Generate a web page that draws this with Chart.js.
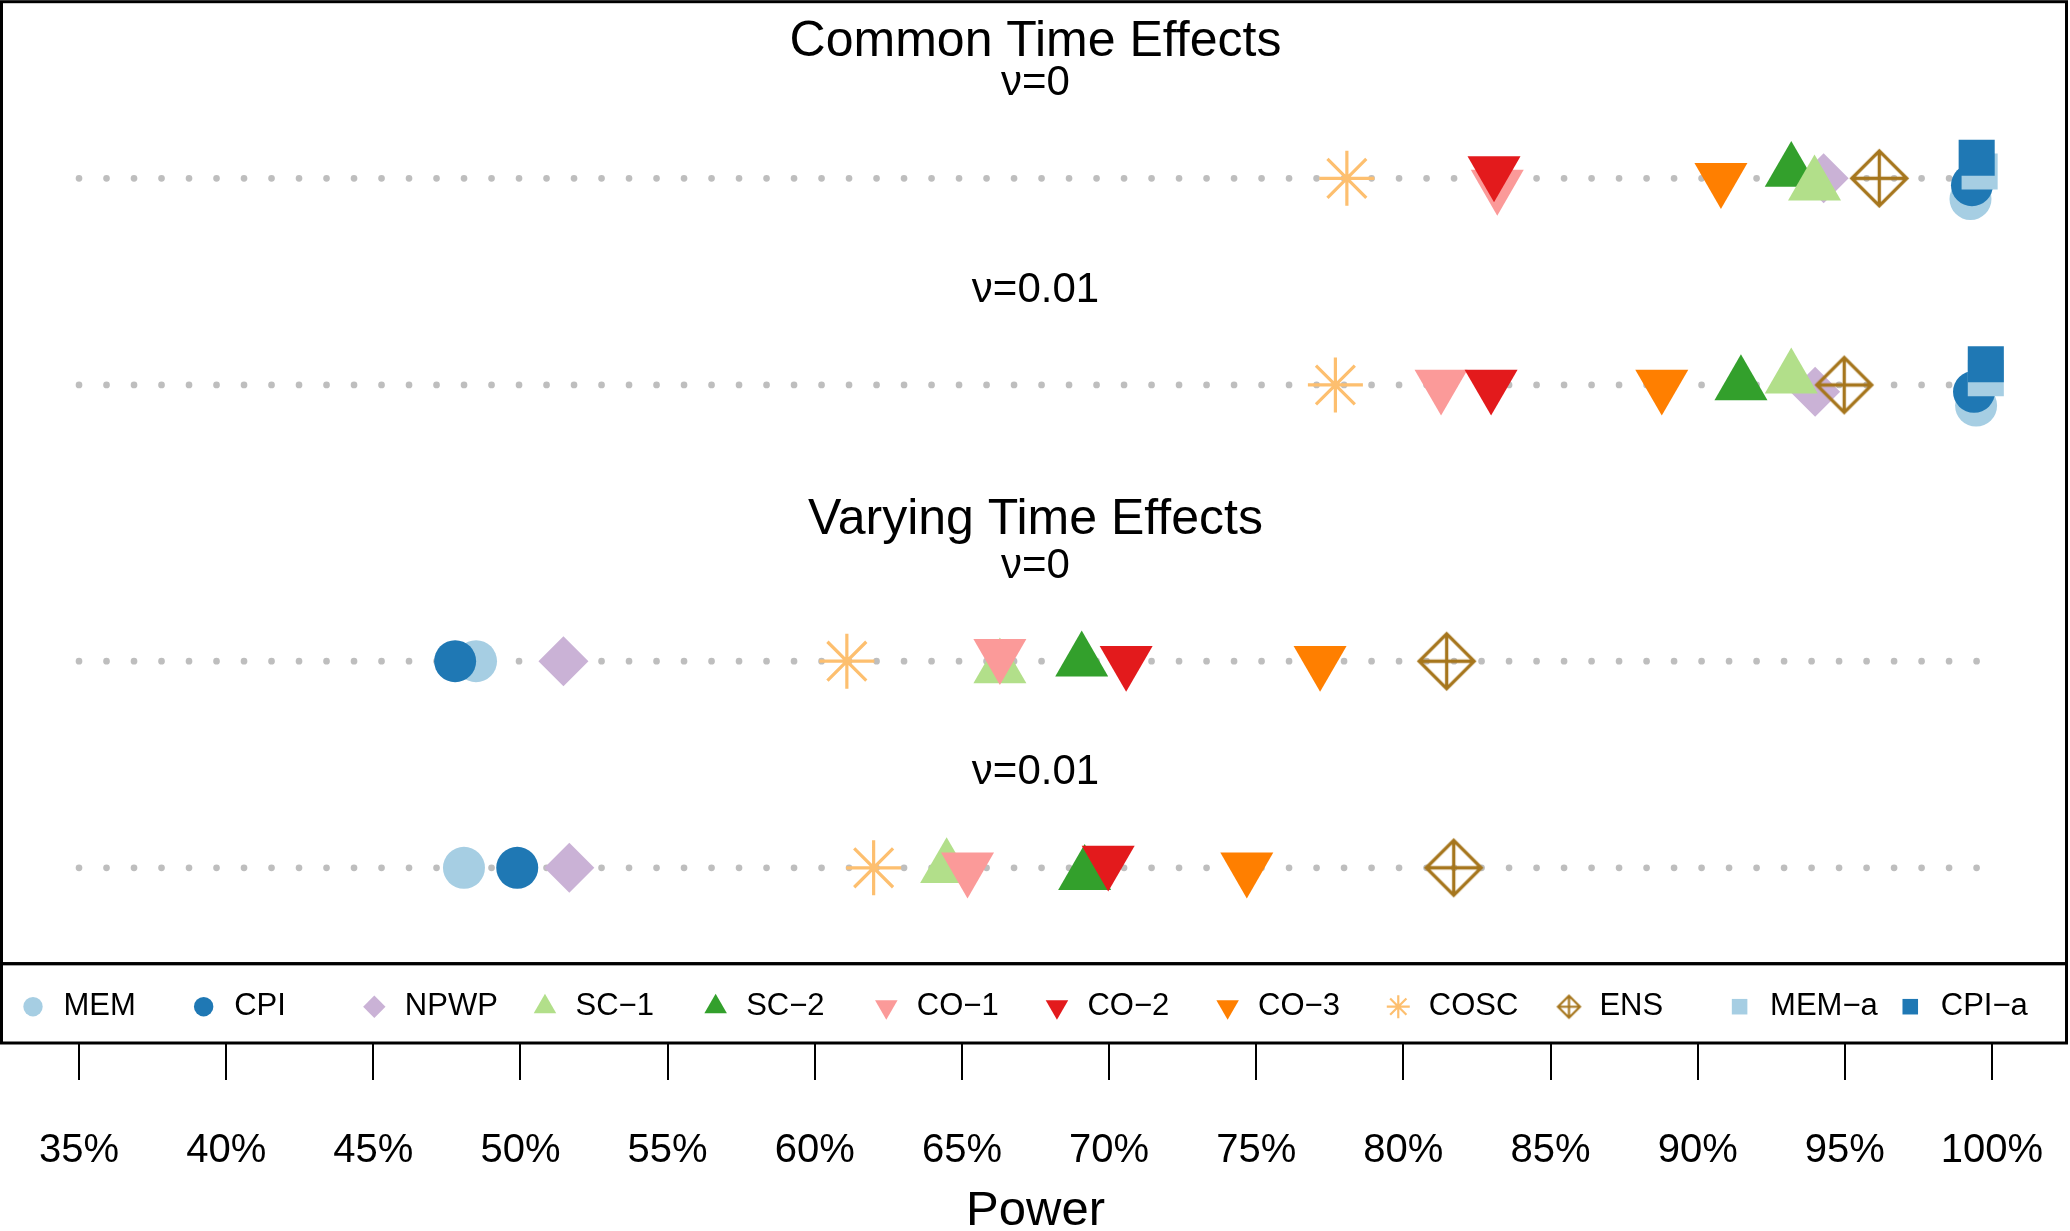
<!DOCTYPE html>
<html>
<head>
<meta charset="utf-8">
<script src="https://cdn.jsdelivr.net/npm/chart.js@4.4.1/dist/chart.umd.min.js"></script>
<style>
  html, body { margin: 0; padding: 0; background: #ffffff; }
  #wrap { width: 2070px; height: 1231px; }
</style>
</head>
<body>
<div id="wrap"><canvas id="chart" width="2070" height="1231"></canvas></div>
<script>
// ---------------- data ----------------
const seriesNames = ['MEM', 'CPI', 'NPWP', 'SC\u22121', 'SC\u22122', 'CO\u22121', 'CO\u22122', 'CO\u22123', 'COSC', 'ENS', 'MEM\u2212a', 'CPI\u2212a'];
const panelTitles = ['Common Time Effects', 'Varying Time Effects'];
const panelFirstRow = [0, 2];
const rowLabels = ['\u03bd=0', '\u03bd=0.01', '\u03bd=0', '\u03bd=0.01'];
// row coordinates (top to bottom): Common ν=0, Common ν=0.01, Varying ν=0, Varying ν=0.01
const rowPos = [0, 1, 2.337, 3.337];
const xTickValues = [35, 40, 45, 50, 55, 60, 65, 70, 75, 80, 85, 90, 95, 100];
const xLimits = [32.4, 102.6];
const guideRange = [35, 99.5];

// power (%) per series, one value per row
const powerMEM  = [99.27, 99.46, 48.49, 48.08];
const powerCPI  = [99.32, 99.39, 47.78, 49.89];
const powerNPWP = [94.28, 93.99, 51.46, 51.66];
const powerSC1  = [93.97, 93.18, 66.29, 64.48];
const powerSC2  = [93.18, 91.47, 69.07, 69.17];
const powerCO1  = [83.19, 81.28, 66.29, 65.19];
const powerCO2  = [83.08, 82.98, 70.58, 69.97];
const powerCO3  = [90.79, 88.78, 77.17, 74.68];
const powerCOSC = [78.08, 77.69, 61.09, 62.00];
const powerENS  = [96.17, 94.98, 81.47, 81.71];
const powerMEMa = [99.58, 99.79, null, null];
const powerCPIa = [99.48, 99.79, null, null];

// vertical separation of overlapping points (row units), one per row
const yOffMEM  = [0.100, 0.100, 0, 0];
const yOffCPI  = [0.033, 0.033, 0, 0];
const yOffNPWP = [0, 0.033, 0, 0];
const yOffSC1  = [0.033, -0.033, 0.033, 0];
const yOffSC2  = [-0.033, 0, 0, 0.033];
const yOffCO1  = [0.033, 0, -0.033, 0];
const yOffCO2  = [-0.033, 0, 0, -0.033];
const yOffCO3  = [0, 0, 0, 0];
const yOffCOSC = [0, 0, 0, 0];
const yOffENS  = [0, 0, 0, 0];
const yOffMEMa = [-0.033, -0.033, 0, 0];
const yOffCPIa = [-0.100, -0.100, 0, 0];

const seriesPower = [powerMEM, powerCPI, powerNPWP, powerSC1, powerSC2, powerCO1, powerCO2, powerCO3, powerCOSC, powerENS, powerMEMa, powerCPIa];
const seriesYOff  = [yOffMEM, yOffCPI, yOffNPWP, yOffSC1, yOffSC2, yOffCO1, yOffCO2, yOffCO3, yOffCOSC, yOffENS, yOffMEMa, yOffCPIa];

// ---------------- styles ----------------
function makeEnsCanvas(half, lw, color) {
  const size = Math.ceil(2 * half + lw + 4);
  const cv = document.createElement('canvas');
  cv.width = size; cv.height = size;
  const c = cv.getContext('2d');
  const m = size / 2;
  c.strokeStyle = color; c.lineWidth = lw; c.lineJoin = 'miter';
  c.beginPath();
  c.moveTo(m - half, m); c.lineTo(m, m - half); c.lineTo(m + half, m); c.lineTo(m, m + half); c.closePath();
  c.moveTo(m - half, m); c.lineTo(m + half, m);
  c.moveTo(m, m - half); c.lineTo(m, m + half);
  c.stroke();
  return cv;
}
const ENS_COLOR = '#A6761D';
const ensPointCanvas = makeEnsCanvas(27.5, 3.3, ENS_COLOR);
const ensLegendCanvas = makeEnsCanvas(11, 2.2, ENS_COLOR);

const markerStyle = [
  { color: '#A6CEE3', shape: 'circle',   rot: 0,   r: 21,   lr: 9.7 },
  { color: '#1F78B4', shape: 'circle',   rot: 0,   r: 21,   lr: 9.7 },
  { color: '#CAB2D6', shape: 'rectRot',  rot: 0,   r: 25,   lr: 11.2 },
  { color: '#B2DF8A', shape: 'triangle', rot: 0,   r: 30.6, lr: 13 },
  { color: '#33A02C', shape: 'triangle', rot: 0,   r: 30.6, lr: 13 },
  { color: '#FB9A99', shape: 'triangle', rot: 180, r: 30.6, lr: 13 },
  { color: '#E31A1C', shape: 'triangle', rot: 180, r: 30.6, lr: 13 },
  { color: '#FF7F00', shape: 'triangle', rot: 180, r: 30.6, lr: 13 },
  { color: '#FDBF6F', shape: 'star',     rot: 0,   r: 27.5, lr: 11.5, lw: 3.2, llw: 2.2 },
  { color: ENS_COLOR, shape: 'ens',      rot: 0,   r: 28,   lr: 11 },
  { color: '#A6CEE3', shape: 'rect',     rot: 0,   r: 25.5, lr: 11 },
  { color: '#1F78B4', shape: 'rect',     rot: 0,   r: 25.5, lr: 11 }
];
// drawing sequence (later = on top)
const drawRank = [0, 1, 2, 4, 3, 5, 6, 7, 8, 9, 10, 11];

// ---------------- datasets ----------------
const guideSets = rowPos.map((yv) => ({
  label: '',
  data: [{ x: guideRange[0], y: yv }, { x: guideRange[1], y: yv }],
  showLine: true,
  borderColor: '#BEBEBE',
  borderWidth: 6.7,
  borderDash: [0.001, 27.5],
  borderCapStyle: 'round',
  pointRadius: 0,
  order: 100
}));

const pointSets = seriesNames.map((name, s) => {
  const st = markerStyle[s];
  const pts = [];
  seriesPower[s].forEach((v, i) => {
    if (v !== null) pts.push({ x: v, y: rowPos[i] + seriesYOff[s][i] });
  });
  return {
    label: name,
    data: pts,
    showLine: false,
    pointStyle: st.shape === 'ens' ? ensPointCanvas : st.shape,
    pointRotation: st.rot,
    pointRadius: st.r,
    pointHoverRadius: st.r,
    pointBackgroundColor: st.color,
    pointBorderColor: st.color,
    pointBorderWidth: st.lw || 0,
    order: 50 - drawRank[s]
  };
});

// ---------------- plugins ----------------
const LEGEND_BAND = 79.3;
const LEGEND_STEP = 170.66;
const TITLE_OFFSETS = [136.5, 141];

function drawLegendMarker(ctx, st, x, y) {
  ctx.save();
  ctx.fillStyle = st.color;
  ctx.strokeStyle = st.color;
  if (st.shape === 'ens') {
    ctx.drawImage(ensLegendCanvas, x - ensLegendCanvas.width / 2, y - ensLegendCanvas.height / 2);
  } else {
    const bw = st.llw || 0;
    ctx.lineWidth = bw;
    Chart.helpers.drawPoint(ctx, { pointStyle: st.shape, radius: st.lr, rotation: st.rot, borderWidth: bw }, x, y);
  }
  ctx.restore();
}

const decorPlugin = {
  id: 'decor',
  afterDraw(chart) {
    const { ctx, chartArea: ca, scales } = chart;
    const ys = scales.y;
    const cx = (ca.left + ca.right) / 2;
    const boxL = ca.left - 1, boxR = ca.right - 2, boxT = ca.top + 0.2;
    const legTop = ca.bottom - LEGEND_BAND;
    ctx.save();
    // frames
    ctx.strokeStyle = '#000';
    ctx.lineWidth = 3;
    ctx.strokeRect(boxL, boxT, boxR - boxL, legTop - boxT);
    ctx.strokeRect(boxL, legTop, boxR - boxL, ca.bottom - legTop);

    // panel titles and row labels
    ctx.fillStyle = '#000';
    ctx.textAlign = 'center';
    ctx.textBaseline = 'middle';
    ctx.font = '50px "Liberation Sans", Arial, sans-serif';
    panelTitles.forEach((t, i) => {
      ctx.fillText(t, cx, ys.getPixelForValue(rowPos[panelFirstRow[i]]) - TITLE_OFFSETS[i]);
    });
    ctx.font = '42px "Liberation Sans", Arial, sans-serif';
    rowLabels.forEach((t, i) => {
      ctx.fillText(t, cx, ys.getPixelForValue(rowPos[i]) - 95);
    });

    // legend
    const legY = legTop + 43;
    ctx.font = '31px "Liberation Sans", Arial, sans-serif';
    ctx.textAlign = 'left';
    seriesNames.forEach((name, s) => {
      const mx = ca.left + 30.5 + s * LEGEND_STEP;
      drawLegendMarker(ctx, markerStyle[s], mx, legY);
      ctx.fillStyle = '#000';
      ctx.fillText(name, mx + 30.5, legY);
    });
    ctx.restore();
  }
};

// ---------------- chart ----------------
new Chart(document.getElementById('chart'), {
  type: 'scatter',
  data: { datasets: guideSets.concat(pointSets) },
  options: {
    responsive: false,
    animation: false,
    events: [],
    layout: { autoPadding: false, padding: { left: 2.5, right: 1.5, top: 1.5, bottom: 0 } },
    plugins: {
      legend: { display: false },
      tooltip: { enabled: false },
      title: { display: false }
    },
    scales: {
      x: {
        type: 'linear',
        position: 'bottom',
        min: xLimits[0],
        max: xLimits[1],
        afterBuildTicks: (scale) => { scale.ticks = xTickValues.map(v => ({ value: v })); },
        afterFit: (scale) => { scale.paddingLeft = 0; scale.paddingRight = 0; scale.height = 188; },
        ticks: {
          callback: (v) => v + '%',
          autoSkip: false,
          maxRotation: 0,
          minRotation: 0,
          padding: 51,
          color: '#000',
          font: { family: '"Liberation Sans", Arial, sans-serif', size: 40, lineHeight: 1.0 }
        },
        grid: {
          display: true,
          drawOnChartArea: false,
          drawTicks: true,
          tickLength: 37,
          color: '#000',
          lineWidth: 2
        },
        border: { display: false },
        title: {
          display: true,
          text: 'Power',
          color: '#000',
          font: { family: '"Liberation Sans", Arial, sans-serif', size: 49, lineHeight: 0.8 },
          padding: { top: 20.8, bottom: 0 }
        }
      },
      y: {
        type: 'linear',
        display: false,
        reverse: true,
        min: -0.856,
        max: 4.185
      }
    }
  },
  plugins: [decorPlugin]
});
</script>
</body>
</html>
